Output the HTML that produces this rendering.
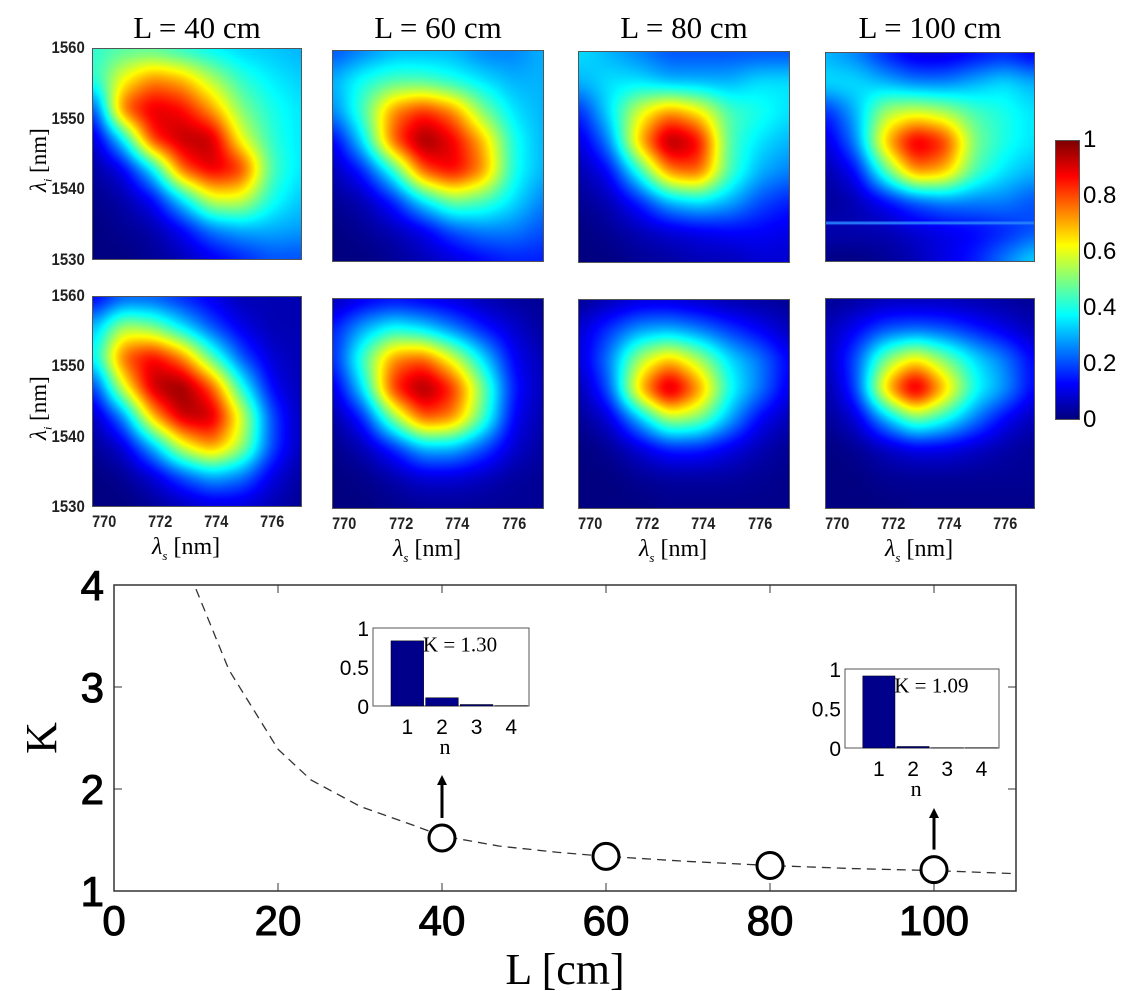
<!DOCTYPE html>
<html><head><meta charset="utf-8"><style>
body{margin:0;background:#fff;width:1136px;height:991px;overflow:hidden;position:relative;font-family:"Liberation Sans",Arial,sans-serif}
.abs{position:absolute}
.title{font-family:"Liberation Serif",serif;font-size:31px;white-space:nowrap;transform:translateX(-50%)}
.tk{font-size:17px;font-weight:bold;white-space:nowrap;color:#222}
canvas.hm{position:absolute;border:1px solid #555;box-sizing:border-box}
</style></head><body>
<div id="topgrid"></div>
<svg id="bottom" class="abs" style="left:0;top:0" width="1136" height="991"></svg>
<script>
// ---- heatmap data (rows: 1560 -> 1530 nm, cols: 770 -> 776.7 nm) ----
const panelTitles=["L = 40 cm","L = 60 cm","L = 80 cm","L = 100 cm"];
const xTickLabels=["770","772","774","776"];
const yTickLabels=["1560","1550","1540","1530"];
const cbTickLabels=["1","0.8","0.6","0.4","0.2","0"];
const expTop40=[[.42,.45,.45,.4,.36,.33,.32,.3],[.4,.62,.75,.7,.55,.42,.36,.33],[.15,.8,.92,.88,.72,.5,.4,.35],[.06,.35,.85,.95,.95,.6,.42,.35],[.03,.1,.35,.8,.92,.85,.45,.35],[.01,.04,.12,.35,.6,.6,.4,.32],[0,.02,.04,.12,.25,.3,.3,.28],[0,0,.02,.05,.1,.15,.2,.2]];
const expTop60=[[.2,.25,.3,.3,.3,.25,.25,.3],[.3,.4,.45,.45,.4,.35,.3,.3],[.25,.45,.75,.85,.75,.5,.35,.3],[.1,.35,.8,1,.9,.7,.4,.3],[.05,.15,.4,.8,.9,.75,.4,.3],[.02,.05,.15,.35,.5,.45,.35,.25],[0,.02,.05,.1,.2,.25,.25,.2],[0,0,.02,.05,.08,.12,.15,.15]];
const expTop80=[[.35,.3,.25,.2,.2,.2,.2,.2],[.3,.35,.35,.3,.3,.3,.35,.35],[.15,.35,.6,.75,.65,.45,.4,.35],[.08,.25,.7,1,.9,.45,.35,.3],[.04,.12,.4,.75,.8,.45,.3,.25],[.02,.05,.15,.3,.35,.3,.2,.15],[0,.02,.05,.08,.1,.12,.12,.1],[0,0,.02,.03,.05,.05,.08,.08]];
const expTop100=[[.3,.25,.15,.08,.08,.12,.15,.1],[.35,.35,.3,.25,.25,.3,.35,.3],[.15,.3,.55,.6,.55,.45,.4,.35],[.08,.25,.7,.95,.85,.5,.4,.35],[.04,.12,.45,.75,.7,.45,.35,.3],[.02,.05,.12,.2,.25,.25,.25,.2],[.05,.05,.05,.08,.1,.12,.15,.2],[0,0,.02,.05,.1,.15,.25,.35]];
const thBot40=[[.1,.2,.2,.15,.1,.05,.05,.05],[.3,.55,.5,.35,.2,.1,.05,.05],[.35,.8,.9,.75,.45,.2,.08,.05],[.15,.6,.95,1,.8,.4,.12,.05],[.05,.25,.7,.95,.95,.6,.2,.05],[.02,.08,.3,.6,.75,.55,.2,.05],[0,.02,.08,.2,.3,.25,.1,.03],[0,0,.02,.05,.08,.08,.05,.02]];
const thBot60=[[.05,.1,.12,.1,.08,.05,.03,.02],[.15,.3,.4,.35,.25,.15,.08,.03],[.15,.45,.75,.8,.6,.35,.12,.05],[.08,.35,.85,1,.85,.5,.15,.05],[.03,.15,.5,.8,.75,.45,.12,.04],[.01,.05,.15,.3,.3,.2,.08,.03],[0,.01,.04,.08,.08,.06,.03,.02],[0,0,.01,.02,.02,.02,.02,.02]];
const thBot80=[[.02,.05,.08,.08,.06,.04,.03,.02],[.08,.18,.28,.3,.25,.18,.12,.06],[.08,.25,.55,.7,.55,.35,.25,.12],[.04,.2,.7,1,.75,.4,.25,.1],[.02,.08,.3,.55,.5,.3,.12,.05],[0,.02,.08,.15,.15,.1,.05,.02],[0,0,.02,.03,.03,.03,.02,.01],[0,0,0,.01,.01,.01,.01,.01]];
const thBot100=[[.02,.03,.05,.05,.05,.04,.03,.02],[.05,.12,.2,.22,.2,.15,.1,.05],[.05,.2,.5,.65,.5,.35,.25,.12],[.03,.18,.7,1,.7,.4,.28,.12],[.02,.08,.3,.5,.4,.25,.12,.05],[0,.02,.06,.1,.1,.07,.04,.02],[0,0,.02,.02,.02,.02,.02,.02],[0,0,0,.01,.01,.01,.01,.01]];
// ---- bottom chart data ----
const curveL=[10,14,20,24,30,37,40,47,54,60,70,80,90,100,110];
const curveK=[3.96,3.17,2.39,2.09,1.83,1.63,1.54,1.44,1.38,1.34,1.29,1.25,1.22,1.20,1.17];
const pointL=[40,60,80,100];
const pointK=[1.52,1.34,1.25,1.21];
const xTicks=[0,20,40,60,80,100];
const yTicks=[1,2,3,4];
const inset1Vals=[0.87,0.11,0.02,0.005];
const inset2Vals=[0.95,0.02,0.004,0.004];
const insetCats=["1","2","3","4"];
const insetYTicks=["1","0.5","0"];

function jet(v){v=Math.max(0,Math.min(1,v));const c=x=>Math.max(0,Math.min(1,x));
return [c(1.5-Math.abs(4*v-3))*255,c(1.5-Math.abs(4*v-2))*255,c(1.5-Math.abs(4*v-1))*255];}
function boxBlur(f,w,h,r){const o=new Float32Array(w*h);
 for(let j=0;j<h;j++)for(let i=0;i<w;i++){let s=0,n=0;for(let k=-r;k<=r;k++){const ii=Math.max(0,Math.min(w-1,i+k));s+=f[j*w+ii];n++;}o[j*w+i]=s/n;}
 const o2=new Float32Array(w*h);
 for(let j=0;j<h;j++)for(let i=0;i<w;i++){let s=0,n=0;for(let k=-r;k<=r;k++){const jj=Math.max(0,Math.min(h-1,j+k));s+=o[jj*w+i];n++;}o2[j*w+i]=s/n;}
 return o2;}
const topEl=document.getElementById('topgrid');
function heat(grid,x,y,w,h,name,line){
 const cv=document.createElement('canvas');cv.className='hm';
 
 
 cv.width=w;cv.height=h;cv.style.left=x+'px';cv.style.top=y+'px';cv.style.width=w+'px';cv.style.height=h+'px';
 const ctx=cv.getContext('2d');const im=ctx.createImageData(w,h);const n=grid.length,m=grid[0].length;
 let f=new Float32Array(w*h);
 for(let j=0;j<h;j++){for(let i=0;i<w;i++){
  const gx=i/(w-1)*(m-1),gy=j/(h-1)*(n-1);const x0=Math.min(m-2,Math.floor(gx)),y0=Math.min(n-2,Math.floor(gy));
  const fx=gx-x0,fy=gy-y0;
  f[j*w+i]=grid[y0][x0]*(1-fx)*(1-fy)+grid[y0][x0+1]*fx*(1-fy)+grid[y0+1][x0]*(1-fx)*fy+grid[y0+1][x0+1]*fx*fy;}}
 f=boxBlur(f,w,h,9);f=boxBlur(f,w,h,7);
 for(let k=0;k<w*h;k++){const c=jet(f[k]);im.data[k*4]=c[0];im.data[k*4+1]=c[1];im.data[k*4+2]=c[2];im.data[k*4+3]=255;}
 ctx.putImageData(im,0,0);
 if(line){ctx.fillStyle='rgba(40,130,255,0.9)';ctx.fillRect(0,h*line,w,3);}
 topEl.appendChild(cv);
}
function txt(s,x,y,cls,style,name){const d=document.createElement('div');d.className='abs '+cls;d.innerHTML=s;d.style.cssText+='left:'+x+'px;top:'+y+'px;'+(style||'');
 
 
 topEl.appendChild(d);}
const rowsTop=[[92,48,210,212],[332,50,212,212],[578,51,212,212],[825,52,210,210]];
const rowsBot=[[92,296,210,211],[332,298,212,211],[578,299,212,210],[825,298,210,211]];
const topGrids=[expTop40,expTop60,expTop80,expTop100];
const botGrids=[thBot40,thBot60,thBot80,thBot100];
for(let p=0;p<4;p++){
 const a=rowsTop[p];heat(topGrids[p],a[0],a[1],a[2],a[3],'heatmap-measured-'+p,p==3?0.81:0);
 txt(panelTitles[p],a[0]+a[2]/2,10,'title','', 'panel-title');
 const b=rowsBot[p];heat(botGrids[p],b[0],b[1],b[2],b[3],'heatmap-theory-'+p,0);
 const ly=b[1]+b[3]+5;
 for(let t=0;t<4;t++){const xv=770+2*t;const px=b[0]+(xv-769.46)/7.5*b[2];
  txt(xTickLabels[t],px-17,ly,'tk','transform:scaleX(0.85)','x-tick-label');}
 txt('<i>λ<sub style="font-size:13px">s</sub></i> [nm]',b[0]+b[2]/2-45,ly+22,'','font-family:Liberation Serif,serif;font-size:24px;white-space:nowrap','x-axis-title');
}
[[48,212],[296,211]].forEach(r=>{for(let t=0;t<4;t++){txt(yTickLabels[t],47,r[0]+t*r[1]/3-10,'tk','transform:scaleX(0.88);transform-origin:right','y-tick-label');}
 txt('<i>λ<sub style="font-size:12px">i</sub></i> [nm]',2,r[0]+r[1]/2-14,'','font-family:Liberation Serif,serif;font-size:23px;transform:rotate(-90deg);transform-origin:38px 14px;width:76px;white-space:nowrap','y-axis-title');});
// colorbar
const cb=document.createElement('canvas');cb.width=25;cb.height=280;cb.className='hm';


cb.style.cssText+='left:1055px;top:140px;width:25px;height:280px';const cc=cb.getContext('2d');
for(let j=0;j<280;j++){const c=jet(1-j/279);cc.fillStyle='rgb('+c.join(',')+')';cc.fillRect(0,j,25,1);}topEl.appendChild(cb);
cbTickLabels.forEach((s,i)=>txt(s,1083,140+i*56-14,'','font-size:24px','colorbar-tick-label'));

// ---- bottom chart ----
const svg=document.getElementById('bottom');const NS='http://www.w3.org/2000/svg';
const X0=114,X1=1016,Y0=891,Y1=585;
const xs=v=>X0+(v-0)/110*(X1-X0);const ys=v=>Y0-(v-1)/3*(Y0-Y1);
function el(t,a,name,parent){const e=document.createElementNS(NS,t);for(const k in a)e.setAttribute(k,a[k]);
 
 
 (parent||svg).appendChild(e);return e;}
el('rect',{x:X0,y:Y1,width:X1-X0,height:Y0-Y1,fill:'none',stroke:'#333','stroke-width':1.5},'plot-frame');
xTicks.forEach(v=>{el('line',{x1:xs(v),x2:xs(v),y1:Y0,y2:Y0-8,stroke:'#333'},'x-tick');el('line',{x1:xs(v),x2:xs(v),y1:Y1,y2:Y1+8,stroke:'#333'},'x-tick');
 const t=el('text',{x:xs(v),y:Y0+44,'text-anchor':'middle','font-size':42,'font-family':'Liberation Sans,sans-serif',stroke:'#000','stroke-width':1},'x-tick-label');t.textContent=v;});
yTicks.forEach(v=>{el('line',{x1:X0,x2:X0+8,y1:ys(v),y2:ys(v),stroke:'#333'},'y-tick');el('line',{x1:X1,x2:X1-8,y1:ys(v),y2:ys(v),stroke:'#333'},'y-tick');
 const t=el('text',{x:X0-10,y:ys(v)+15,'text-anchor':'end','font-size':42,'font-family':'Liberation Sans,sans-serif',stroke:'#000','stroke-width':1},'y-tick-label');t.textContent=v;});
let t=el('text',{x:565,y:984,'text-anchor':'middle','font-size':44,'font-family':'Liberation Serif,serif'},'x-axis-title');t.textContent='L  [cm]';
t=el('text',{x:0,y:0,'text-anchor':'middle','font-size':44,'font-family':'Liberation Serif,serif',transform:'translate(56,738) rotate(-90)'},'y-axis-title');t.textContent='K';
el('path',{d:curveL.map((l,i)=>(i?'L':'M')+xs(l)+','+ys(curveK[i])).join(' '),fill:'none',stroke:'#333','stroke-width':1.3,'stroke-dasharray':'9,6'},'fit-curve');
pointL.forEach((l,i)=>el('circle',{cx:xs(l),cy:ys(pointK[i]),r:13,fill:'#fff',stroke:'#000','stroke-width':3},'data-point'));
function arrow(x,y1,y2){el('line',{x1:x,x2:x,y1:y1,y2:y2+8,stroke:'#000','stroke-width':3},'arrow');el('polygon',{points:(x-5)+','+(y2+10)+' '+(x+5)+','+(y2+10)+' '+x+','+y2},'arrow-head');}
arrow(xs(40),ys(pointK[0])-20,775);arrow(xs(100),ys(pointK[3])-20,808);
function inset(vals,x,y,w,h,label,name){
 const g=el('g',{},name);
 el('rect',{x:x,y:y,width:w,height:h,fill:'#fff',stroke:'#555','stroke-width':1},'inset-frame',g);
 const bw=w/4.5,xc=i=>x+w*(0.22+0.222*i);const yv=v=>y+h-v*h*0.96;
 vals.forEach((v,i)=>el('rect',{x:xc(i)-bw/2+1,y:yv(v),width:bw-2,height:y+h-yv(v),fill:'#00008b',stroke:'#000','stroke-width':0.5},'inset-bar',g));
 insetCats.forEach((c,i)=>{const q=el('text',{x:xc(i),y:y+h+28,'text-anchor':'middle','font-size':21,'font-family':'Liberation Sans,sans-serif'},'inset-x-tick-label',g);q.textContent=c;});
 insetYTicks.forEach((c,i)=>{const q=el('text',{x:x-4,y:y+i*h/2+8,'text-anchor':'end','font-size':21,'font-family':'Liberation Sans,sans-serif'},'inset-y-tick-label',g);q.textContent=c;});
 let q=el('text',{x:xc(1)+3,y:y+h+48,'text-anchor':'middle','font-size':22,'font-family':'Liberation Serif,serif'},'inset-x-title',g);q.textContent='n';
 q=el('text',{x:x+w*0.32,y:y+h*0.3,'font-size':21,'font-family':'Liberation Serif,serif'},'inset-k-label',g);q.textContent=label;
}
inset(inset1Vals,373,628,156,78,'K = 1.30','inset-40cm');
inset(inset2Vals,845,669,154,79,'K = 1.09','inset-100cm');
</script>
</body></html>
